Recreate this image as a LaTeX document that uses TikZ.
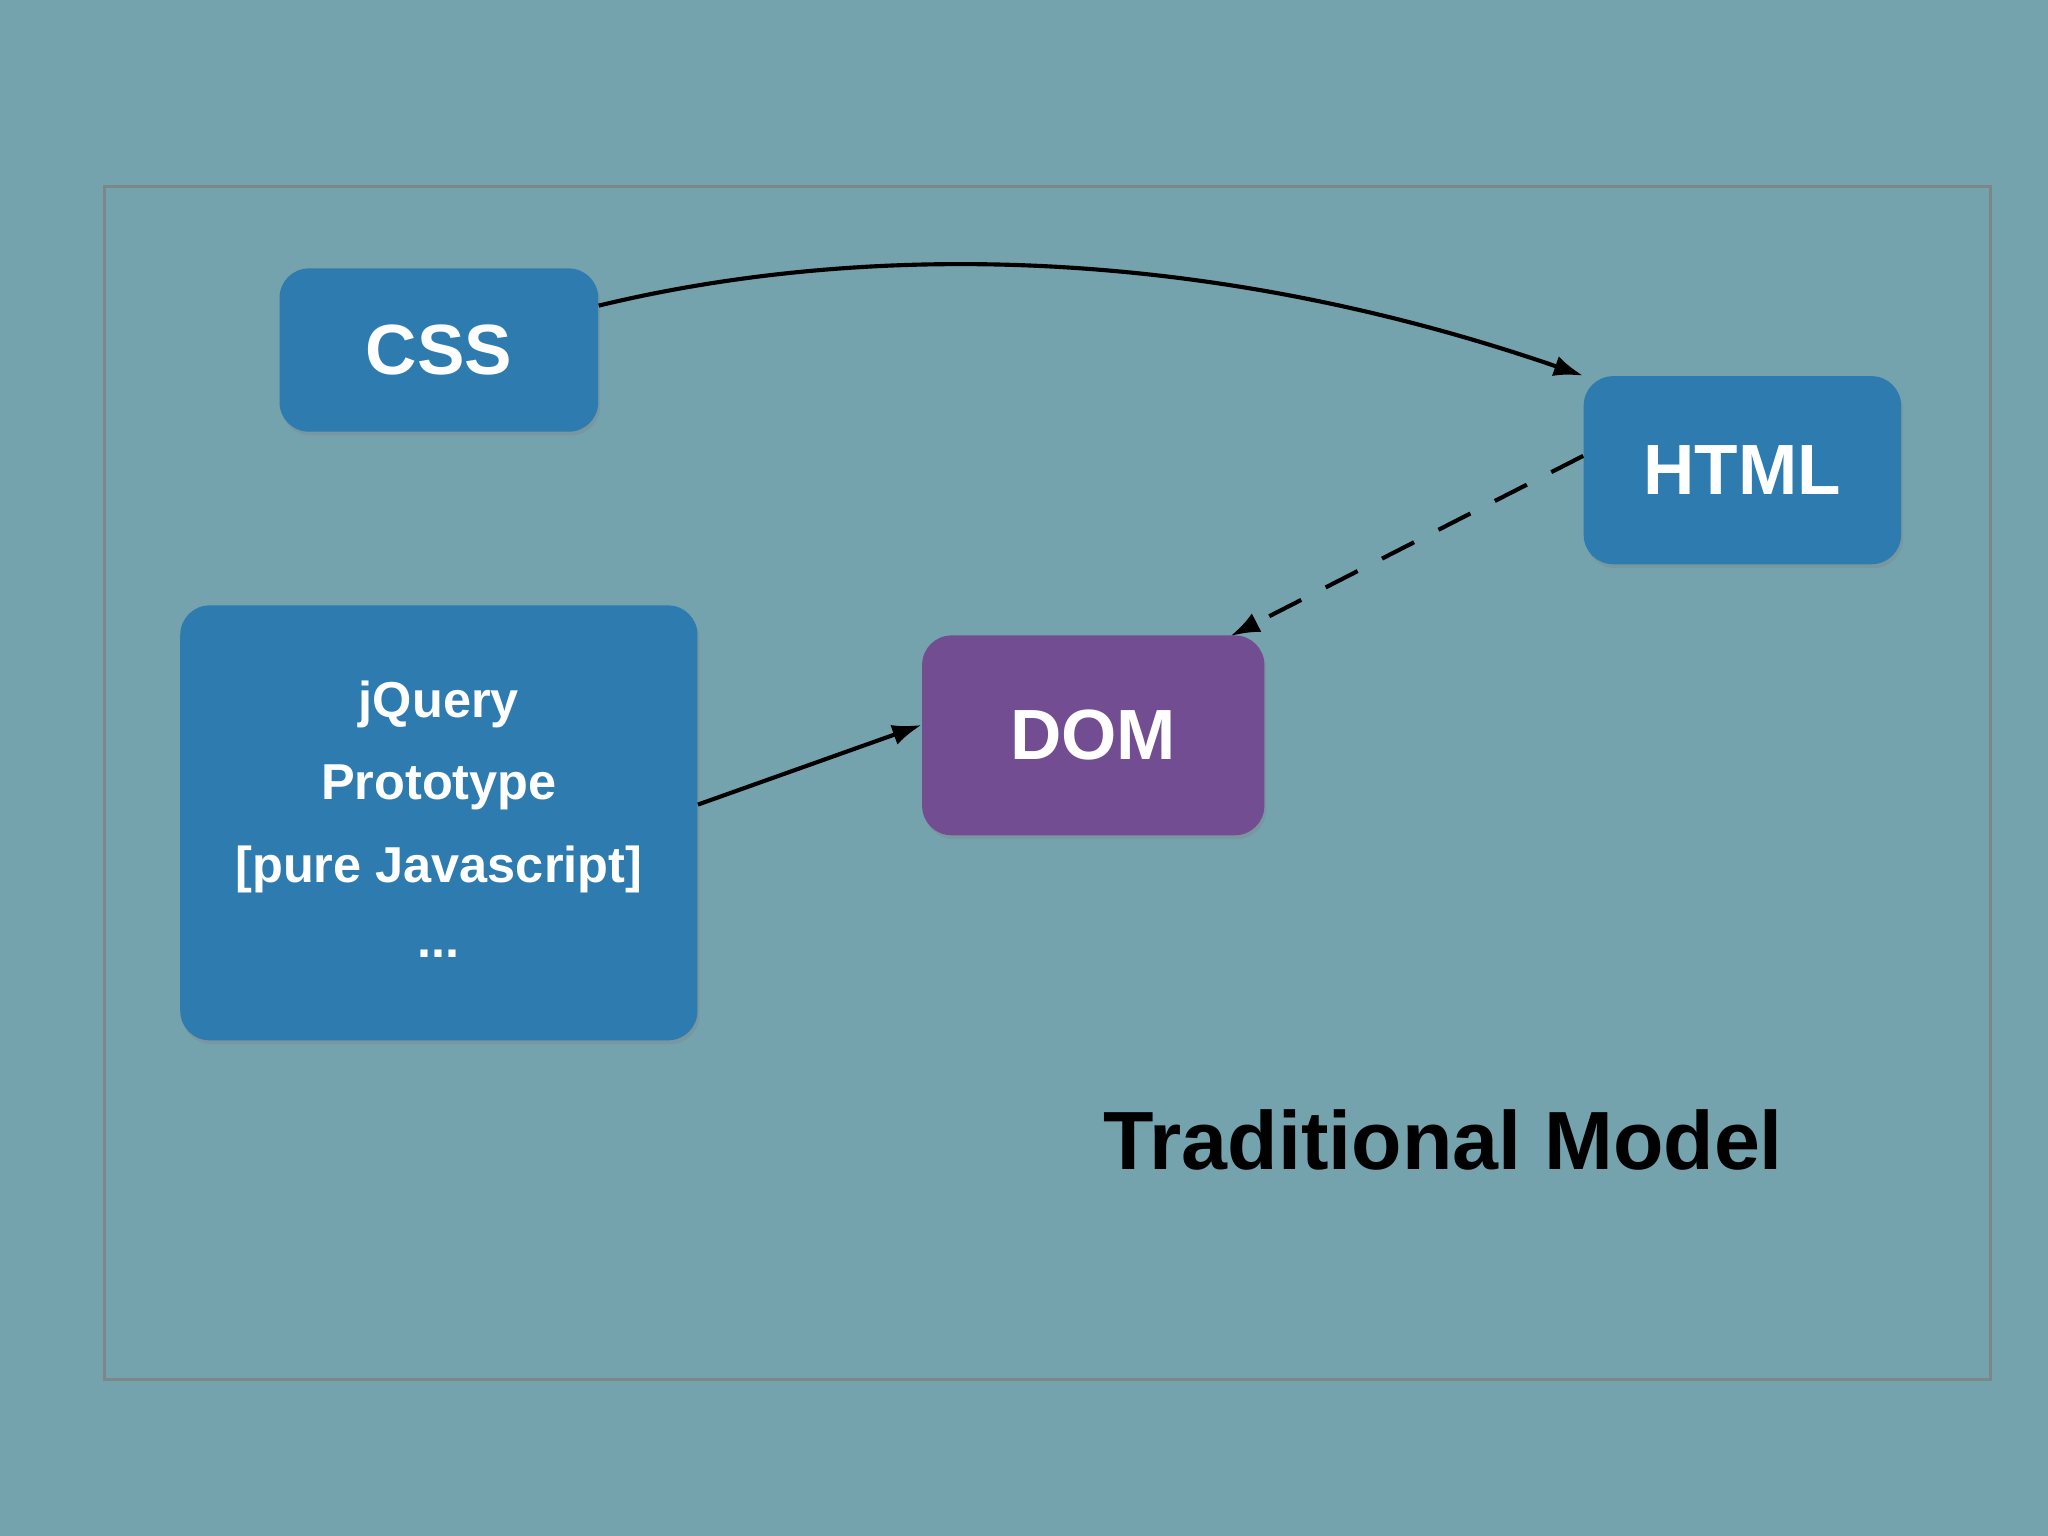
\documentclass[tikz,border=0pt]{standalone}
\usepackage{fontspec}
\setmainfont{Liberation Sans}
\usetikzlibrary{arrows.meta,shadows}
\definecolor{bg}{HTML}{74A3AE}
\definecolor{bx}{HTML}{2E7BB0}
\definecolor{pu}{HTML}{734D91}
\begin{document}
\begin{tikzpicture}[x=0.02cm,y=-0.02cm,
  box/.style={draw=none,rounded corners=0.45cm,inner sep=0pt,text=white,font=\bfseries,
    drop shadow={shadow xshift=0.03cm,shadow yshift=-0.06cm,opacity=0.3}},
  arr/.style={line width=1.8pt,-{Latex[length=0.45cm,width=0.32cm]}}]
\fill[bg] (0,0) rectangle (1568,1176);
\useasboundingbox (0,0) rectangle (1568,1176);
\draw[color=gray!80!bg,line width=1.2pt] (80,143) rectangle (1524,1056);
\node[box,fill=bx,minimum width=244*0.02cm,minimum height=125*0.02cm,font=\bfseries\fontsize{31}{36}\selectfont] (css) at (336,268) {CSS};
\node[box,fill=bx,minimum width=243*0.02cm,minimum height=144*0.02cm,font=\bfseries\fontsize{31}{36}\selectfont] (html) at (1334,360) {HTML};
\node[box,fill=bx,minimum width=396*0.02cm,minimum height=333*0.02cm,align=center,font=\bfseries\fontsize{22}{36}\selectfont] (js) at (336,630) {jQuery\\Prototype\\{[}pure Javascript{]}\\\raisebox{0.3ex}{...}};
\node[box,fill=pu,minimum width=262*0.02cm,minimum height=153*0.02cm,font=\bfseries\fontsize{31}{36}\selectfont] (dom) at (837,563) {DOM};
\node[font=\bfseries\fontsize{36}{42}\selectfont] (title) at (1105,873) {Traditional Model};
\draw[arr] (css.east |- 0,234) .. controls (640,190) and (900,180) .. (html.north west);
\draw[arr,dash pattern=on 0.55cm off 0.42cm] (html.west |- 0,349) -- (942,487);
\draw[arr] (js.east |- 0,616) -- (dom.west |- 0,555);
\end{tikzpicture}
\end{document}
